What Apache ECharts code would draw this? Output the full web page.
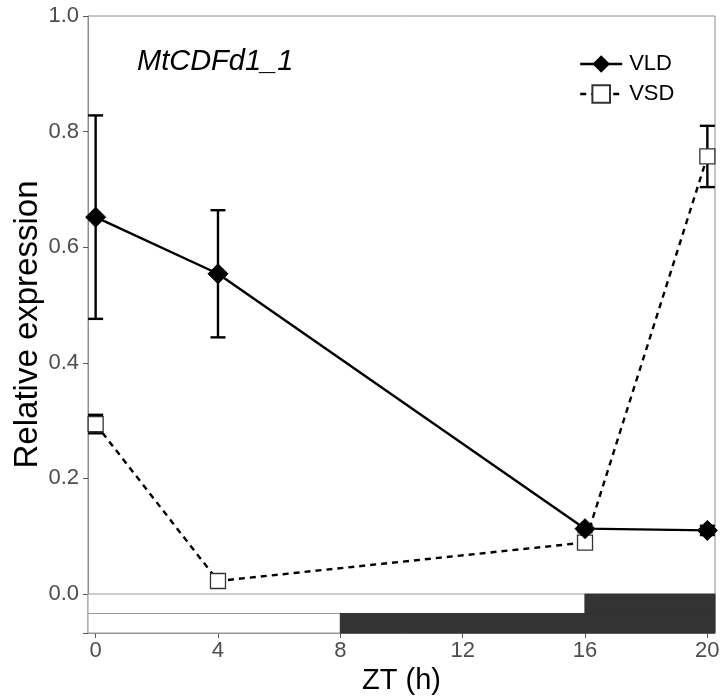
<!DOCTYPE html>
<html>
<head>
<meta charset="utf-8">
<script src="https://cdn.jsdelivr.net/npm/echarts@6/dist/echarts.min.js"></script>
<style>
html,body{margin:0;padding:0;background:#fff;}
#main{width:721px;height:699px;}
</style>
</head>
<body>
<div id="main"></div>
<script>
// ZT time points
var zt = [0, 4, 16, 20];
// VLD (long day) mean and sd
var vldMean = [0.652, 0.554, 0.113, 0.110];
var vldSd = [0.176, 0.110, 0.006, 0.008];
// VSD (short day) mean and sd
var vsdMean = [0.294, 0.0225, 0.089, 0.757];
var vsdSd = [0.016, 0.004, 0.004, 0.053];
// light/dark bars: [start, end, dark?]
var vldPhases = [[-0.25, 16, false], [16, 20.25, true]];
var vsdPhases = [[-0.25, 8, false], [8, 20.25, true]];
var xTicks = [0, 4, 8, 12, 16, 20];
var yTicks = [0, 0.2, 0.4, 0.6, 0.8, 1.0];

var yMin = -0.0675;
var barH = yMin / 2;

function pairs(xs, ys) {
    var out = [];
    for (var i = 0; i < xs.length; i++) out.push([xs[i], ys[i]]);
    return out;
}

function errData(xs, m, sd) {
    var out = [];
    for (var i = 0; i < xs.length; i++) out.push([xs[i], m[i] - sd[i], m[i] + sd[i]]);
    return out;
}

function phaseAreas(phases, top, bottom) {
    var out = [];
    for (var i = 0; i < phases.length; i++) {
        var p = phases[i];
        out.push([
            {xAxis: p[0], yAxis: top, itemStyle: {color: p[2] ? '#333333' : '#ffffff', borderColor: p[2] ? '#333333' : '#999999', borderWidth: 1}},
            {xAxis: p[1], yAxis: bottom}
        ]);
    }
    return out;
}

function renderErr(params, api) {
    var x = api.value(0);
    var lo = api.coord([x, api.value(1)]);
    var hi = api.coord([x, api.value(2)]);
    var w = 7.5;
    var st = {stroke: '#000', lineWidth: 2.4};
    return {
        type: 'group',
        children: [
            {type: 'line', shape: {x1: lo[0], y1: lo[1], x2: hi[0], y2: hi[1]}, style: st},
            {type: 'line', shape: {x1: lo[0] - w, y1: lo[1], x2: lo[0] + w, y2: lo[1]}, style: st},
            {type: 'line', shape: {x1: hi[0] - w, y1: hi[1], x2: hi[0] + w, y2: hi[1]}, style: st}
        ]
    };
}

var myChart = echarts.init(document.getElementById('main'));
var font = '"Liberation Sans", Arial, sans-serif';

var option = {
    animation: false,
    textStyle: {fontFamily: font},
    grid: {
        left: 88, right: 6, top: 16, bottom: 66,
        outerBoundsMode: 'none',
        containLabel: false,
        show: true, borderColor: '#8c8c8c', borderWidth: 1
    },
    title: {
        text: 'MtCDFd1_1',
        left: 132, top: 42,
        textStyle: {fontFamily: font, fontStyle: 'italic', fontWeight: 'normal', fontSize: 29, color: '#000'}
    },
    legend: {
        left: 574, top: 48,
        orient: 'vertical',
        itemWidth: 42, itemHeight: 22, itemGap: 8,
        lineStyle: {width: 2.4},
        textStyle: {fontFamily: font, fontSize: 22, color: '#000', padding: [0, 0, 0, 2]},
        data: ['VLD', 'VSD']
    },
    xAxis: {
        type: 'value',
        min: -0.25, max: 20.25,
        name: 'ZT (h)',
        nameLocation: 'middle',
        nameGap: 33,
        nameTextStyle: {fontFamily: font, fontSize: 29, color: '#000'},
        axisLine: {show: true, onZero: false, lineStyle: {color: '#8c8c8c'}},
        axisTick: {show: true, length: 5, lineStyle: {color: '#555'}, customValues: xTicks},
        axisLabel: {fontSize: 22, color: '#4d4d4d', margin: 7, customValues: xTicks},
        splitLine: {show: false}
    },
    yAxis: {
        type: 'value',
        min: yMin, max: 1,
        name: 'Relative expression',
        nameLocation: 'middle',
        nameGap: 44,
        nameMoveOverlap: false,
        nameTextStyle: {fontFamily: font, fontSize: 33, color: '#000'},
        axisLine: {show: true, onZero: false, lineStyle: {color: '#8c8c8c'}},
        axisTick: {show: true, length: 5, lineStyle: {color: '#555'}, customValues: [yMin].concat(yTicks)},
        axisLabel: {fontSize: 22, color: '#4d4d4d', margin: 9, customValues: yTicks,
            formatter: function (v) { return v.toFixed(1); }},
        splitLine: {show: false}
    },
    series: [
        {
            type: 'custom',
            name: 'errVSD',
            renderItem: renderErr,
            data: errData(zt, vsdMean, vsdSd),
            z: 1,
            silent: true
        },
        {
            type: 'custom',
            name: 'errVLD',
            renderItem: renderErr,
            data: errData(zt, vldMean, vldSd),
            z: 1,
            silent: true
        },
        {
            name: 'VSD',
            type: 'line',
            data: pairs(zt, vsdMean),
            symbol: 'rect',
            symbolSize: 15,
            showAllSymbol: true,
            lineStyle: {color: '#000', width: 2.4, type: [6, 5]},
            itemStyle: {color: '#ffffff', borderColor: '#333333', borderWidth: 1.3},
            z: 3,
            markArea: {
                silent: true,
                data: phaseAreas(vldPhases, 0, barH).concat(phaseAreas(vsdPhases, barH, yMin))
            }
        },
        {
            name: 'VLD',
            type: 'line',
            data: pairs(zt, vldMean),
            symbol: 'diamond',
            symbolSize: 20,
            showAllSymbol: true,
            lineStyle: {color: '#000', width: 2.4},
            itemStyle: {color: '#000', borderColor: '#000'},
            z: 4
        }
    ]
};
myChart.setOption(option);
</script>
</body>
</html>
